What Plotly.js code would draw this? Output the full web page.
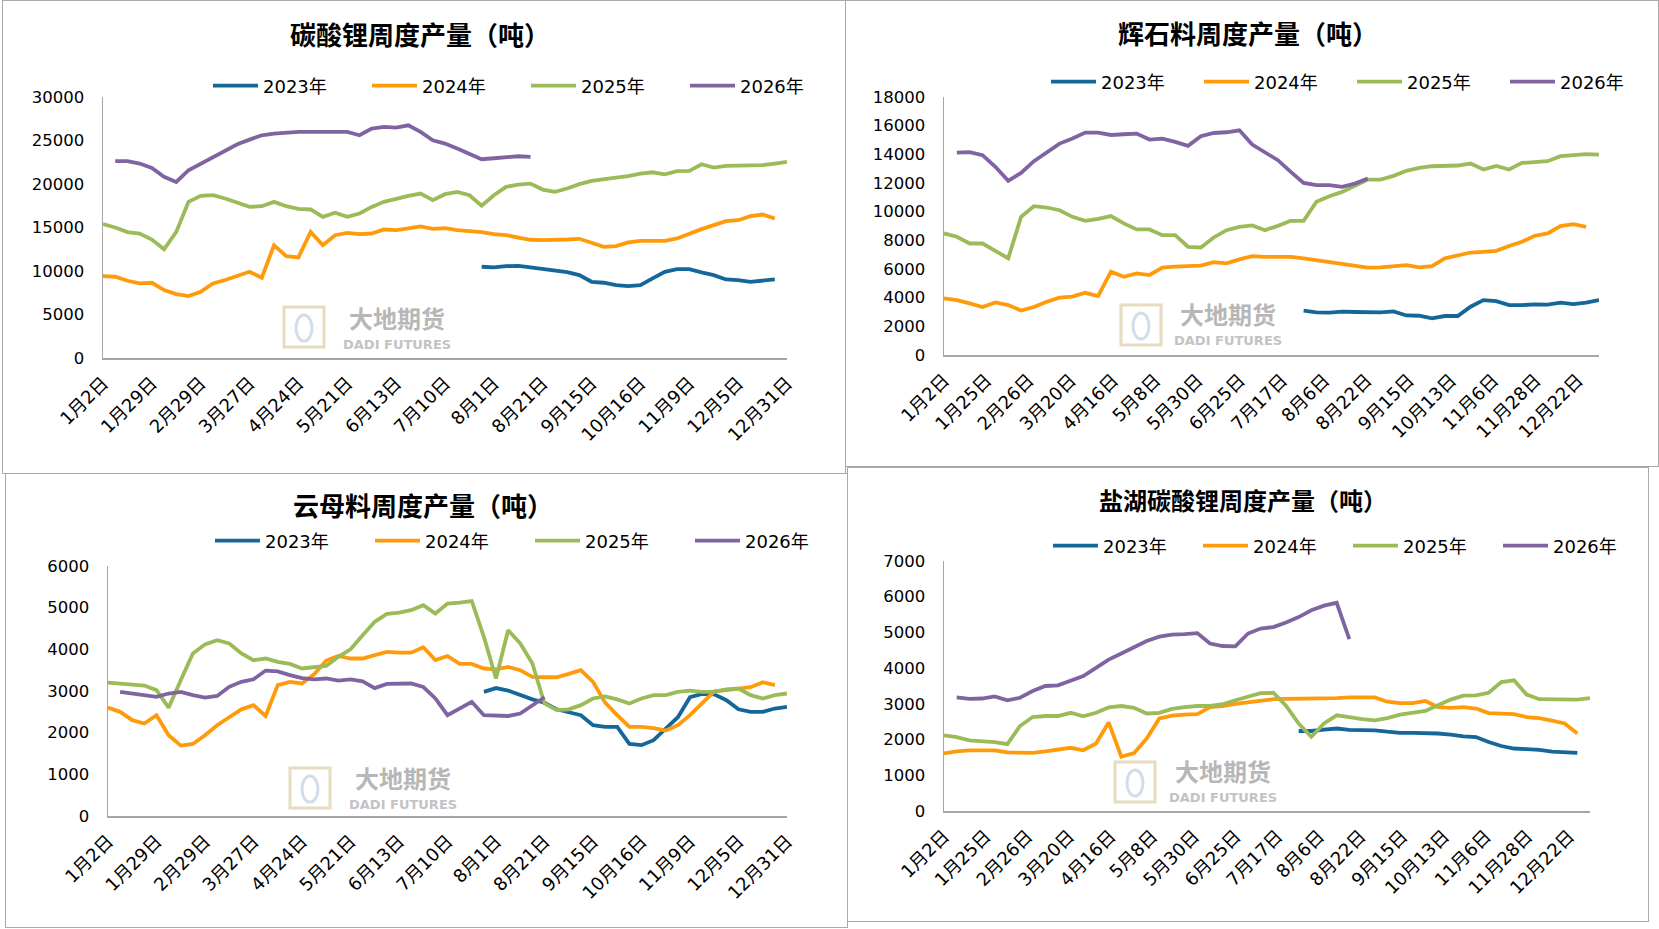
<!DOCTYPE html>
<html>
<head>
<meta charset="utf-8">
<script src="https://cdn.plot.ly/plotly-3.0.1.min.js"></script>
<style>
  body { margin: 0; background: #fff; }
  .panel { position: absolute; }
  .frame { position: absolute; box-sizing: border-box; border: 1.5px solid #a9a9a9; pointer-events: none; }
</style>
</head>
<body>
<div id="lc" class="panel" style="left:2px;top:0px;width:843px;height:473px"></div>
<div id="sp" class="panel" style="left:846px;top:0px;width:812px;height:466px"></div>
<div id="mi" class="panel" style="left:5px;top:473px;width:842px;height:454px"></div>
<div id="sl" class="panel" style="left:847px;top:468px;width:801px;height:453px"></div>
<div class="frame" style="left:2px;top:0px;width:844px;height:474px"></div>
<div class="frame" style="left:845px;top:0px;width:814px;height:467px"></div>
<div class="frame" style="left:5px;top:473px;width:843px;height:455px"></div>
<div class="frame" style="left:847px;top:467px;width:802px;height:455px"></div>
<script>
// series colours
const colors = ['#15679a', '#ff9b0a', '#9bbb59', '#8064a2'];
const years = ['2023年', '2024年', '2025年', '2026年'];

// x tick labels
const ticksA = ['1月2日','1月29日','2月29日','3月27日','4月24日','5月21日','6月13日','7月10日','8月1日','8月21日','9月15日','10月16日','11月9日','12月5日','12月31日'];
const ticksB = ['1月2日','1月25日','2月26日','3月20日','4月16日','5月8日','5月30日','6月25日','7月17日','8月6日','8月22日','9月15日','10月13日','11月6日','11月28日','12月22日'];

// 碳酸锂周度产量 (start week index, values)
const lc2023Start = 31;
const lc2023 = [10490,10410,10560,10600,10410,10260,10100,9870,9530,8760,8650,8380,8270,8380,9150,9910,10220,10220,9840,9530,9030,8960,8760,8840,9030];
const lc2024Start = 0;
const lc2024 = [9415,9340,8880,8570,8650,7810,7350,7120,7620,8570,8960,9410,9910,9220,12970,11710,11560,14500,12970,14120,14390,14240,14310,14770,14690,14890,15120,14850,14930,14690,14620,14470,14240,14120,13850,13590,13550,13550,13620,13700,13240,12780,12860,13280,13470,13510,13470,13740,14310,14810,15270,15730,15840,16300,16490,16040];
const lc2025Start = 0;
const lc2025 = [15390,15000,14470,14310,13620,12500,14500,17950,18640,18710,18330,17830,17370,17450,17950,17450,17140,17070,16230,16690,16230,16610,17370,17950,18330,18640,18900,18140,18830,19100,18710,17500,18700,19670,19940,20050,19360,19100,19480,19980,20360,20590,20740,20900,21200,21350,21120,21470,21510,22270,21890,22080,22120,22120,22160,22350,22540];
const lc2026Start = 1;
const lc2026 = [22620,22620,22350,21850,20820,20240,21580,22350,23120,23880,24570,25100,25600,25790,25910,25990,25990,25990,25990,25990,25600,26370,26560,26480,26750,25990,25030,24650,24070,23420,22850,22960,23080,23190,23120];

// 辉石料周度产量
const sp2023Start = 28;
const sp2023 = [3090,2970,2950,3020,3000,2970,2970,3040,2760,2740,2560,2720,2720,3370,3830,3760,3480,3480,3530,3510,3650,3550,3650,3830];
const sp2024Start = 0;
const sp2024 = [3950,3830,3600,3350,3670,3480,3100,3350,3720,4000,4070,4340,4110,5810,5460,5690,5580,6090,6160,6180,6230,6480,6390,6670,6900,6850,6850,6850,6740,6600,6460,6320,6200,6090,6110,6160,6270,6110,6200,6740,6970,7150,7200,7270,7600,7900,8320,8480,8990,9130,8940];
const sp2025Start = 0;
const sp2025 = [8480,8250,7780,7780,7270,6740,9640,10380,10290,10100,9640,9360,9500,9690,9180,8760,8760,8360,8360,7550,7500,8200,8710,8940,9040,8710,9010,9360,9360,10690,11080,11380,11800,12240,12240,12500,12850,13060,13170,13190,13220,13360,12940,13190,12940,13400,13430,13520,13870,13910,14010,13980];
const sp2026Start = 1;
const sp2026 = [14120,14150,13940,13130,12150,12700,13520,14170,14750,15100,15520,15520,15350,15400,15450,15030,15100,14870,14590,15260,15490,15540,15680,14680,14150,13590,12780,12010,11850,11850,11730,11960,12310];

// 云母料周度产量
const mi2023Start = 31;
const mi2023 = [2980,3070,3010,2900,2800,2720,2560,2490,2420,2180,2140,2140,1730,1700,1820,2100,2370,2850,2930,2920,2780,2560,2500,2500,2580,2620];
const mi2024Start = 0;
const mi2024 = [2600,2500,2300,2220,2420,1940,1690,1730,1940,2180,2370,2560,2660,2400,3140,3220,3180,3400,3730,3840,3780,3780,3860,3940,3920,3920,4050,3740,3840,3650,3650,3540,3520,3580,3500,3340,3330,3330,3410,3500,3220,2720,2420,2140,2140,2110,2050,2180,2420,2720,2990,3020,3060,3090,3210,3140];
const mi2025Start = 0;
const mi2025 = [3200,3180,3160,3130,3020,2600,3260,3900,4120,4220,4140,3900,3740,3780,3700,3650,3540,3580,3600,3820,4000,4340,4660,4850,4880,4940,5060,4860,5100,5120,5160,4300,3300,4460,4140,3660,2700,2540,2560,2660,2820,2870,2800,2700,2820,2900,2900,2980,3010,2980,2980,3040,3060,2900,2820,2900,2940];
const mi2026Start = 1;
const mi2026 = [2980,2940,2900,2860,2940,2980,2900,2840,2880,3100,3220,3280,3490,3470,3380,3310,3280,3300,3250,3280,3230,3070,3170,3170,3180,3100,2820,2420,2580,2740,2420,2400,2400,2460,2660,2850];

// 盐湖碳酸锂周度产量
const sl2023Start = 28;
const sl2023 = [2240,2240,2280,2310,2270,2260,2260,2220,2190,2190,2190,2170,2140,2090,2070,1930,1820,1750,1730,1710,1660,1640,1630];
const sl2024Start = 0;
const sl2024 = [1610,1670,1700,1700,1700,1640,1630,1630,1670,1710,1770,1700,1890,2480,1520,1620,2030,2590,2670,2700,2710,2910,2940,3000,3040,3090,3130,3140,3140,3140,3150,3160,3180,3190,3180,3060,3020,3020,3080,2910,2890,2910,2870,2740,2730,2710,2630,2600,2530,2450,2170];
const sl2025Start = 0;
const sl2025 = [2120,2070,1980,1960,1930,1870,2380,2630,2660,2660,2750,2650,2750,2900,2940,2890,2730,2750,2860,2910,2940,2940,2990,3100,3210,3300,3310,2950,2450,2080,2450,2680,2630,2570,2540,2600,2700,2750,2800,2960,3120,3230,3240,3310,3610,3660,3260,3130,3120,3120,3120,3160];
const sl2026Start = 1;
const sl2026 = [3180,3140,3150,3210,3100,3170,3360,3500,3520,3640,3780,4010,4240,4410,4590,4760,4880,4940,4950,4980,4690,4620,4610,4970,5110,5150,5280,5430,5620,5750,5830,4810];

const numFont = 'DejaVu Sans, Noto Sans CJK SC, sans-serif';
const cjkFont = 'Noto Sans CJK SC, sans-serif';

function series(starts, lists) {
    return lists.map((vals, k) => ({
        x: vals.map((v, i) => starts[k] + i),
        y: vals,
        type: 'scatter',
        mode: 'lines',
        name: years[k],
        line: { color: colors[k], width: 3.8 },
        hoverinfo: 'skip'
    }));
}

function drawPanel(cfg) {
    const W = cfg.w, H = cfg.h, m = cfg.margin;
    const pw = W - m.l - m.r, ph = H - m.t - m.b;
    const px = x => (x - m.l) / pw;
    const py = y => 1 - (y - m.t) / ph;

    const layout = {
        width: W,
        height: H,
        margin: { l: m.l, r: m.r, t: m.t, b: m.b, pad: 0, autoexpand: false },
        paper_bgcolor: 'rgba(0,0,0,0)',
        plot_bgcolor: 'rgba(0,0,0,0)',
        title: {
            text: cfg.title,
            font: { family: cjkFont, size: cfg.titleSize, color: '#000', weight: 'bold' },
            x: cfg.titleX / W, y: 1 - cfg.titleY / H,
            xanchor: 'center', yanchor: 'middle'
        },
        showlegend: true,
        legend: {
            orientation: 'h',
            xref: 'container', yref: 'container',
            x: (cfg.legX - 6) / W, y: 1 - cfg.legY / H,
            xanchor: 'left', yanchor: 'middle',
            itemwidth: 45,
            entrywidth: cfg.legStep - 60,
            entrywidthmode: 'pixels',
            font: { family: numFont, size: 18, color: '#000' },
            bgcolor: 'rgba(0,0,0,0)',
            borderwidth: 0
        },
        xaxis: {
            range: cfg.xRange,
            tickvals: cfg.ticks.map((t, i) => i * cfg.tickStep),
            ticktext: cfg.ticks,
            tickangle: -45,
            tickfont: { family: numFont, size: 18, color: '#000' },
            showline: true, linecolor: '#a6a6a6', linewidth: 1.5,
            showgrid: false, zeroline: false, ticks: '',
            ticklabelstandoff: 6
        },
        yaxis: {
            range: cfg.yRange,
            dtick: cfg.dtick,
            tickformat: 'd',
            tickfont: { family: numFont, size: 16.5, color: '#000' },
            showline: true, linecolor: '#a6a6a6', linewidth: 1.5,
            showgrid: false, zeroline: false, ticks: '',
            ticklabelstandoff: 14
        },
        annotations: [
            { text: '大地期货', xref: 'paper', yref: 'paper', x: px(cfg.wm[0]), y: py(cfg.wm[1] - 5),
              showarrow: false, xanchor: 'center', yanchor: 'middle',
              font: { family: cjkFont, size: 24, color: '#b7b7b7', weight: 'bold' } },
            { text: 'DADI FUTURES', xref: 'paper', yref: 'paper', x: px(cfg.wm[0]), y: py(cfg.wm[1] + 22),
              showarrow: false, xanchor: 'center', yanchor: 'middle',
              font: { family: 'DejaVu Sans, sans-serif', size: 13, color: '#c3c3c3', weight: 'bold' } }
        ],
        shapes: [
            { type: 'rect', xref: 'paper', yref: 'paper', layer: 'below',
              x0: px(cfg.logo[0]), x1: px(cfg.logo[0] + 40), y0: py(cfg.logo[1]), y1: py(cfg.logo[1] + 40),
              line: { color: '#e7dcc2', width: 3 }, fillcolor: 'rgba(0,0,0,0)' },
            { type: 'circle', xref: 'paper', yref: 'paper', layer: 'below',
              x0: px(cfg.logo[0] + 12), x1: px(cfg.logo[0] + 28), y0: py(cfg.logo[1] + 8), y1: py(cfg.logo[1] + 34),
              line: { color: '#d3dcea', width: 3 }, fillcolor: 'rgba(0,0,0,0)' }
        ]
    };
    Plotly.newPlot(cfg.id, cfg.traces, layout, { displayModeBar: false, staticPlot: true });
}

drawPanel({
    id: 'lc', w: 843, h: 473, margin: { l: 101, r: 58, t: 97, b: 115 },
    title: '碳酸锂周度产量（吨）', titleSize: 26, titleX: 418, titleY: 36,
    legX: 212, legY: 86, legStep: 159,
    ticks: ticksA, tickStep: 4, xRange: [0, 56],
    yRange: [0, 30000], dtick: 5000,
    wm: [395, 322], logo: [282, 307],
    traces: series([lc2023Start, lc2024Start, lc2025Start, lc2026Start], [lc2023, lc2024, lc2025, lc2026])
});
drawPanel({
    id: 'sp', w: 812, h: 466, margin: { l: 98, r: 59, t: 97, b: 111 },
    title: '辉石料周度产量（吨）', titleSize: 26, titleX: 402, titleY: 35,
    legX: 206, legY: 82, legStep: 153,
    ticks: ticksB, tickStep: 3.29, xRange: [0, 51],
    yRange: [0, 18000], dtick: 2000,
    wm: [382, 318], logo: [275, 305],
    traces: series([sp2023Start, sp2024Start, sp2025Start, sp2026Start], [sp2023, sp2024, sp2025, sp2026])
});
drawPanel({
    id: 'mi', w: 842, h: 454, margin: { l: 103, r: 60, t: 93, b: 111 },
    title: '云母料周度产量（吨）', titleSize: 26, titleX: 418, titleY: 34,
    legX: 211, legY: 68, legStep: 160,
    ticks: ticksA, tickStep: 4, xRange: [0, 56],
    yRange: [0, 6000], dtick: 1000,
    wm: [398, 309], logo: [285, 295],
    traces: series([mi2023Start, mi2024Start, mi2025Start, mi2026Start], [mi2023, mi2024, mi2025, mi2026])
});
drawPanel({
    id: 'sl', w: 801, h: 453, margin: { l: 97, r: 58, t: 93, b: 110 },
    title: '盐湖碳酸锂周度产量（吨）', titleSize: 24, titleX: 396, titleY: 34,
    legX: 207, legY: 78, legStep: 150,
    ticks: ticksB, tickStep: 3.29, xRange: [0, 51],
    yRange: [0, 7000], dtick: 1000,
    wm: [376, 307], logo: [268, 294],
    traces: series([sl2023Start, sl2024Start, sl2025Start, sl2026Start], [sl2023, sl2024, sl2025, sl2026])
});
</script>
</body>
</html>
